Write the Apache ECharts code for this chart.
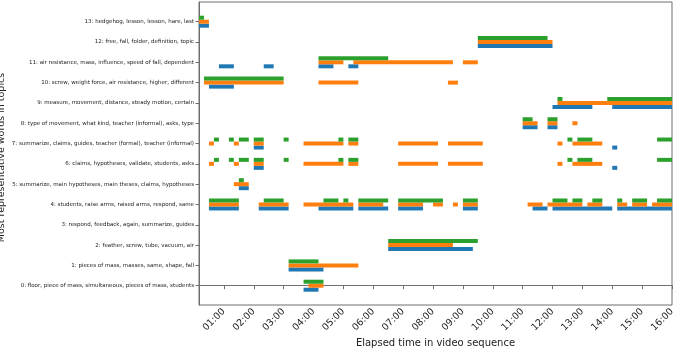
<!DOCTYPE html>
<html>
<head>
<meta charset="utf-8">
<script src="https://cdn.jsdelivr.net/npm/echarts@6/dist/echarts.min.js"></script>
<style>
  html, body { margin: 0; padding: 0; background: #fff; }
  #chart { width: 685px; height: 350px; }
</style>
</head>
<body>
<div id="chart"></div>
<script>
// topic labels, index = topic id
const topicLabels = [
  "0: floor, piece of mass, simultaneous, pieces of mass, students",
  "1: pieces of mass, masses, same, shape, fall",
  "2: feather, screw, tube, vacuum, air",
  "3: respond, feedback, again, summarize, guides",
  "4: students, raise arms, raised arms, respond, same",
  "5: summarize, main hypotheses, main theses, claims, hypotheses",
  "6: claims, hypotheses, validate, students, asks",
  "7: summarize, claims, guides, teacher (formal), teacher (informal)",
  "8: type of movement, what kind, teacher (informal), asks, type",
  "9: measure, movement, distance, steady motion, certain",
  "10: screw, weight force, air resistance, higher, different",
  "11: air resistance, mass, influence, speed of fall, dependent",
  "12: free, fall, folder, definition, topic",
  "13: hedgehog, lesson, lesson, hare, last"
];

// x ticks in seconds (01:00 .. 16:00)
const xTickSeconds = [60, 120, 180, 240, 300, 360, 420, 480, 540, 600, 660, 720, 780, 840, 900, 960];

// segments: [topic, start s, end s]
const blueSegments = [
  [13, 10, 30],
  [12, 570, 720],
  [11, 50, 80], [11, 140, 160], [11, 250, 280], [11, 310, 330],
  [10, 30, 80],
  [9, 720, 800], [9, 840, 960],
  [8, 660, 690], [8, 710, 730],
  [7, 120, 140], [7, 840, 850],
  [6, 120, 140], [6, 840, 850],
  [5, 90, 110],
  [4, 30, 90], [4, 130, 190], [4, 250, 320], [4, 330, 390], [4, 410, 460], [4, 540, 570],
  [4, 680, 710], [4, 720, 840], [4, 850, 960],
  [2, 390, 560],
  [1, 190, 260],
  [0, 220, 250]
];

const orangeSegments = [
  [13, 10, 30],
  [12, 570, 720],
  [11, 250, 300], [11, 320, 520], [11, 540, 570],
  [10, 20, 180], [10, 250, 330], [10, 510, 530],
  [9, 730, 960],
  [8, 660, 690], [8, 710, 730], [8, 760, 770],
  [7, 30, 40], [7, 80, 90], [7, 120, 140], [7, 220, 300], [7, 310, 330], [7, 410, 490],
  [7, 510, 580], [7, 730, 740], [7, 760, 820],
  [6, 30, 40], [6, 80, 90], [6, 120, 140], [6, 220, 300], [6, 310, 330], [6, 410, 490],
  [6, 510, 580], [6, 730, 740], [6, 760, 820],
  [5, 80, 110],
  [4, 30, 90], [4, 130, 190], [4, 220, 320], [4, 330, 380], [4, 410, 460], [4, 480, 500],
  [4, 520, 530], [4, 540, 570], [4, 670, 700], [4, 710, 780], [4, 790, 820], [4, 850, 870],
  [4, 880, 910], [4, 920, 960],
  [2, 390, 520],
  [1, 190, 330],
  [0, 230, 260]
];

const greenSegments = [
  [13, 10, 20],
  [12, 570, 710],
  [11, 250, 390],
  [10, 20, 180],
  [9, 730, 740], [9, 830, 960],
  [8, 660, 680], [8, 710, 730],
  [7, 40, 50], [7, 70, 80], [7, 90, 110], [7, 120, 140], [7, 180, 190], [7, 290, 300],
  [7, 310, 330], [7, 750, 760], [7, 770, 800], [7, 930, 960],
  [6, 40, 50], [6, 70, 80], [6, 90, 110], [6, 120, 140], [6, 180, 190], [6, 290, 300],
  [6, 310, 330], [6, 750, 760], [6, 770, 800], [6, 930, 960],
  [5, 90, 100],
  [4, 30, 90], [4, 140, 180], [4, 260, 290], [4, 300, 310], [4, 330, 390], [4, 410, 500],
  [4, 540, 570], [4, 720, 750], [4, 760, 780], [4, 800, 820], [4, 850, 860], [4, 880, 910],
  [4, 930, 960],
  [2, 390, 570],
  [1, 190, 250],
  [0, 220, 260]
];

const FONT = "DejaVu Sans";
const AXIS_COLOR = "#6f6f6f";
const BAR_H = 4;

function fmtTime(sec) {
  const m = Math.floor(sec / 60), s = Math.round(sec % 60);
  return String(m).padStart(2, "0") + ":" + String(s).padStart(2, "0");
}

function segmentSeries(name, data, color, yOffset) {
  return {
    type: "custom",
    name,
    data,
    encode: { x: [1, 2], y: 0 },
    itemStyle: { color },
    clip: true,
    renderItem: function (params, api) {
      const row = api.value(0);
      const p0 = api.coord([api.value(1), row]);
      const p1 = api.coord([api.value(2), row]);
      return {
        type: "rect",
        shape: { x: p0[0], y: p0[1] + yOffset - BAR_H / 2, width: p1[0] - p0[0], height: BAR_H },
        style: { fill: api.visual("color") }
      };
    }
  };
}

const chart = echarts.init(document.getElementById("chart"));
chart.setOption({
  animation: false,
  grid: {
    left: 199, right: 13, top: 2, bottom: 45,
    show: true, borderColor: AXIS_COLOR, borderWidth: 1,
    outerBoundsMode: "none"
  },
  xAxis: {
    type: "value",
    min: 10,
    max: 960,
    name: "Elapsed time in video sequence",
    nameLocation: "middle",
    nameGap: 33,
    nameMoveOverlap: false,
    nameTextStyle: { fontFamily: FONT, fontSize: 10, color: "#222" },
    splitLine: { show: false },
    axisLine: { show: true, lineStyle: { color: AXIS_COLOR } },
    axisTick: { show: true, length: 3.5, customValues: xTickSeconds, lineStyle: { color: AXIS_COLOR } },
    axisLabel: {
      customValues: xTickSeconds,
      formatter: fmtTime,
      rotate: 45,
      margin: 5,
      fontFamily: FONT,
      fontSize: 9.5,
      color: "#222"
    }
  },
  yAxis: {
    type: "value",
    min: -0.95,
    max: 13.97,
    name: "Most representative words in topics",
    nameLocation: "middle",
    nameGap: 192,
    nameRotate: 90,
    nameMoveOverlap: false,
    nameTextStyle: { fontFamily: FONT, fontSize: 9.5, color: "#222", padding: [0, 0, 0, -8] },
    splitLine: { show: false },
    axisLine: { show: true, lineStyle: { color: AXIS_COLOR } },
    axisTick: { show: true, length: 3.5, customValues: topicLabels.map((_, i) => i), lineStyle: { color: AXIS_COLOR } },
    axisLabel: {
      customValues: topicLabels.map((_, i) => i),
      formatter: v => topicLabels[Math.round(v)],
      margin: 5,
      fontFamily: FONT,
      fontSize: 5.5,
      color: "#222"
    }
  },
  series: [
    segmentSeries("blue", blueSegments, "#1f77b4", 4),
    segmentSeries("orange", orangeSegments, "#ff7f0e", 0),
    segmentSeries("green", greenSegments, "#2ca02c", -4)
  ]
});
</script>
</body>
</html>
